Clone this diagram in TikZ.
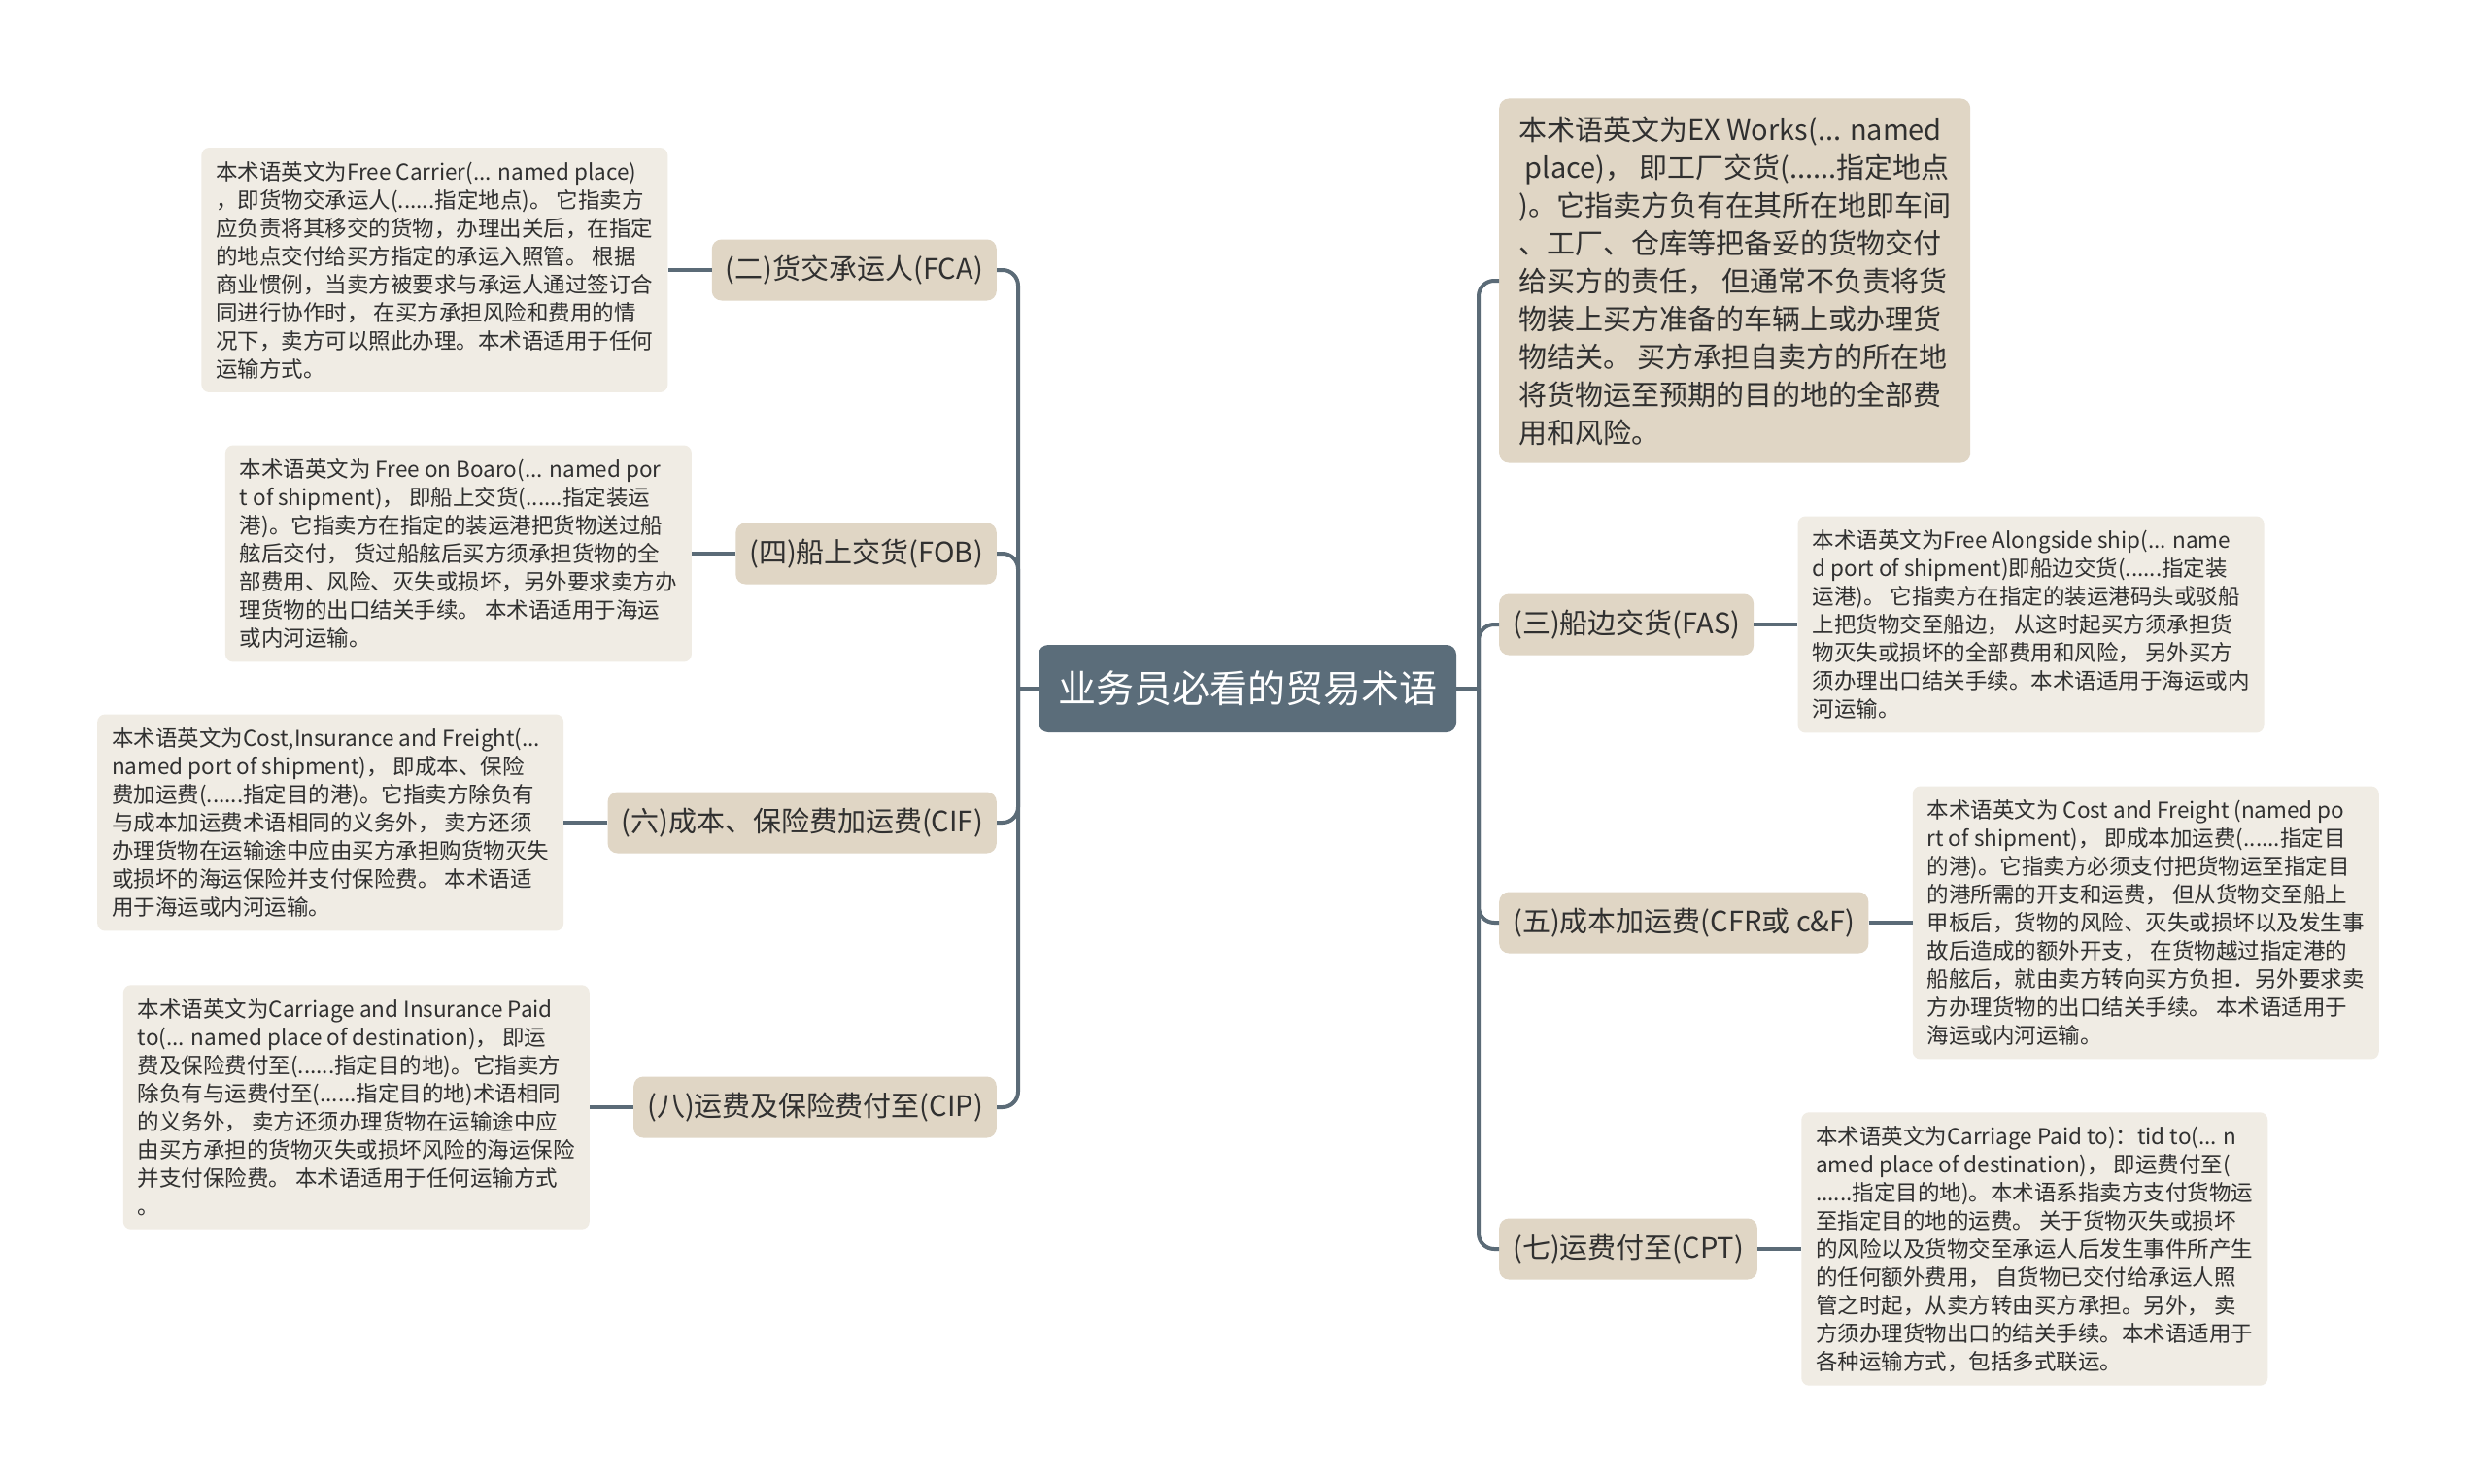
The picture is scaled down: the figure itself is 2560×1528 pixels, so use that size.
\documentclass[tikz,border=0pt]{standalone}
\usepackage{fontspec}
\setmainfont{Noto Sans CJK SC}
\usetikzlibrary{positioning}
\definecolor{rootfill}{HTML}{5B6D7A}
\definecolor{branchfill}{HTML}{E0D6C5}
\definecolor{notefill}{HTML}{F0ECE4}
\definecolor{linkcol}{HTML}{5B6B77}
\definecolor{inkcol}{HTML}{303030}
\tikzset{
  root/.style={fill=rootfill, text=white, rounded corners=10pt, minimum width=430pt,
    minimum height=90pt, inner xsep=20pt, font=\fontsize{39pt}{47pt}\selectfont},
  branch/.style={fill=branchfill, text=inkcol, rounded corners=10pt, minimum height=63pt,
    inner xsep=14pt, font=\fontsize{29pt}{39pt}\selectfont},
  exwbox/.style={branch, align=left, minimum width=485pt, inner ysep=18pt},
  note/.style={fill=notefill, text=inkcol, rounded corners=8pt, minimum width=480pt,
    align=left, inner xsep=12pt, inner ysep=14pt, font=\fontsize{22.5pt}{29pt}\selectfont},
  link/.style={draw=linkcol, line width=4pt, rounded corners=16pt}
}
\begin{document}
\begin{tikzpicture}[x=1pt,y=-1pt]
\useasboundingbox[fill=white] (0,0) rectangle (2560,1528);
% centre
\node[root] (root) at (1284,709) {业务员必看的贸易术语};
\coordinate (lj) at (1048,709);
\coordinate (rj) at (1522,709);

% left branches
\node[branch, anchor=east] (fca) at (1026,278) {(二)货交承运人(FCA)};
\node[branch, anchor=east] (fob) at (1026,570) {(四)船上交货(FOB)};
\node[branch, anchor=east] (cif) at (1026,847) {(六)成本、保险费加运费(CIF)};
\node[branch, anchor=east] (cip) at (1026,1140) {(八)运费及保险费付至(CIP)};

\node[note, left=45pt of fca] (fca-n) {本术语英文为Free Carrier(... named place)\\
，即货物交承运人(......指定地点)。 它指卖方\\
应负责将其移交的货物，办理出关后，在指定\\
的地点交付给买方指定的承运入照管。 根据\\
商业惯例，当卖方被要求与承运人通过签订合\\
同进行协作时， 在买方承担风险和费用的情\\
况下，卖方可以照此办理。本术语适用于任何\\
运输方式。};
\node[note, left=45pt of fob] (fob-n) {本术语英文为 Free on Boaro(... named por\\
t of shipment)， 即船上交货(......指定装运\\
港)。它指卖方在指定的装运港把货物送过船\\
舷后交付， 货过船舷后买方须承担货物的全\\
部费用、风险、灭失或损坏，另外要求卖方办\\
理货物的出口结关手续。 本术语适用于海运\\
或内河运输。};
\node[note, left=45pt of cif] (cif-n) {本术语英文为Cost,Insurance and Freight(...\\
named port of shipment)， 即成本、保险\\
费加运费(......指定目的港)。它指卖方除负有\\
与成本加运费术语相同的义务外， 卖方还须\\
办理货物在运输途中应由买方承担购货物灭失\\
或损坏的海运保险并支付保险费。 本术语适\\
用于海运或内河运输。};
\node[note, left=45pt of cip] (cip-n) {本术语英文为Carriage and Insurance Paid\\
to(... named place of destination)， 即运\\
费及保险费付至(......指定目的地)。它指卖方\\
除负有与运费付至(......指定目的地)术语相同\\
的义务外， 卖方还须办理货物在运输途中应\\
由买方承担的货物灭失或损坏风险的海运保险\\
并支付保险费。 本术语适用于任何运输方式\\
。};

% right branches
\node[exwbox, anchor=west] (exw) at (1543,289) {本术语英文为EX Works(... named\\
\ place)， 即工厂交货(......指定地点\\
)。它指卖方负有在其所在地即车间\\
、工厂、仓库等把备妥的货物交付\\
给买方的责任， 但通常不负责将货\\
物装上买方准备的车辆上或办理货\\
物结关。 买方承担自卖方的所在地\\
将货物运至预期的目的地的全部费\\
用和风险。};
\node[branch, anchor=west] (fas) at (1543,643) {(三)船边交货(FAS)};
\node[branch, anchor=west] (cfr) at (1543,950) {(五)成本加运费(CFR或 c\&F)};
\node[branch, anchor=west] (cpt) at (1543,1286) {(七)运费付至(CPT)};

\node[note, right=45pt of fas] (fas-n) {本术语英文为Free Alongside ship(... name\\
d port of shipment)即船边交货(......指定装\\
运港)。 它指卖方在指定的装运港码头或驳船\\
上把货物交至船边， 从这时起买方须承担货\\
物灭失或损坏的全部费用和风险， 另外买方\\
须办理出口结关手续。本术语适用于海运或内\\
河运输。};
\node[note, right=45pt of cfr] (cfr-n) {本术语英文为 Cost and Freight (named po\\
rt of shipment)， 即成本加运费(......指定目\\
的港)。它指卖方必须支付把货物运至指定目\\
的港所需的开支和运费， 但从货物交至船上\\
甲板后，货物的风险、灭失或损坏以及发生事\\
故后造成的额外开支， 在货物越过指定港的\\
船舷后，就由卖方转向买方负担．另外要求卖\\
方办理货物的出口结关手续。 本术语适用于\\
海运或内河运输。};
\node[note, right=45pt of cpt] (cpt-n) {本术语英文为Carriage Paid to)：tid to(... n\\
amed place of destination)， 即运费付至(\\
......指定目的地)。本术语系指卖方支付货物运\\
至指定目的地的运费。 关于货物灭失或损坏\\
的风险以及货物交至承运人后发生事件所产生\\
的任何额外费用， 自货物已交付给承运人照\\
管之时起，从卖方转由买方承担。另外， 卖\\
方须办理货物出口的结关手续。本术语适用于\\
各种运输方式，包括多式联运。};

% connectors
\draw[link] (root.west) -- (lj);
\draw[link] (root.east) -- (rj);
\foreach \b in {fca,fob,cif,cip} {
  \draw[link] (lj) |- (\b.east);
  \draw[link] (\b.west) -- (\b-n.east);
}
\draw[link] (rj) |- (exw.west);
\foreach \b in {fas,cfr,cpt} {
  \draw[link] (rj) |- (\b.west);
  \draw[link] (\b.east) -- (\b-n.west);
}
\end{tikzpicture}
\end{document}
